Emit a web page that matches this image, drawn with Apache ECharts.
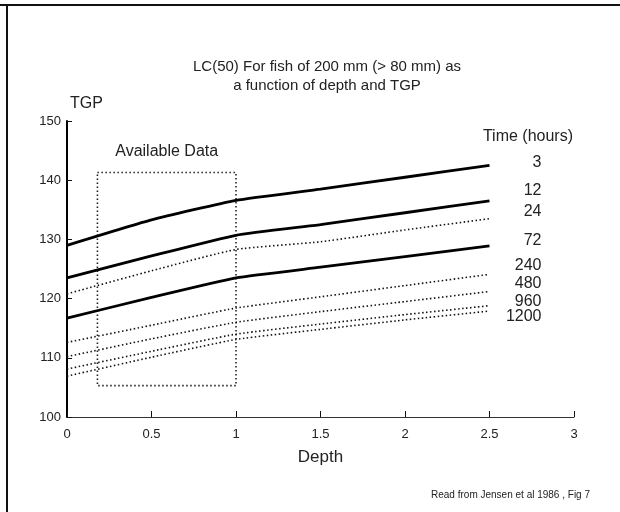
<!DOCTYPE html>
<html>
<head>
    <meta charset="utf-8">
    <title>LC(50) depth and TGP</title>
    <script src="https://cdn.jsdelivr.net/npm/echarts@6/dist/echarts.min.js"></script>
    <style>
        html, body { margin: 0; padding: 0; background: #fff; }
    </style>
</head>
<body>
<div id="main" style="width: 620px;height:512px;"></div>
<script type="text/javascript">
    // depth values where the curves were read
    var depths = [0, 0.5, 1, 1.5, 2, 2.5];

    // exposure times (hours), one curve each
    var times = ['3', '12', '24', '72', '240', '480', '960', '1200'];

    // TGP values, per time
    var tgp3    = [129.0, 133.3, 136.6, 138.5, 140.5, 142.5];
    var tgp12   = [123.5, 127.2, 130.7, 132.5, 134.5, 136.5];
    var tgp24   = [120.8, 124.7, 128.3, 129.6, 131.6, 133.5];
    var tgp72   = [116.7, 120.2, 123.5, 125.3, 127.1, 128.9];
    var tgp240  = [112.6, 115.5, 118.4, 120.3, 122.2, 124.1];
    var tgp480  = [110.2, 113.2, 116.0, 117.8, 119.5, 121.2];
    var tgp960  = [108.1, 111.1, 114.0, 115.7, 117.3, 118.8];
    var tgp1200 = [106.9, 110.1, 113.1, 114.8, 116.4, 117.9];

    // box of available data (depth range, TGP range)
    var availDepth = [0.18, 1.0];
    var availTGP = [105.3, 141.3];

    var yTicks = [100, 110, 120, 130, 140, 150];
    var xTicks = [0, 0.5, 1, 1.5, 2, 2.5, 3];

    var allTgp = [tgp3, tgp12, tgp24, tgp72, tgp240, tgp480, tgp960, tgp1200];
    // solid or dotted, like the original
    var solid = [true, true, false, true, false, false, false, false];
    // little vertical nudges so the end labels sit like in the figure
    var labelDy = [-3, -10, -7, -5, -9, -8, -4, 6];

    var font = "'Liberation Sans', Arial, sans-serif";

    var myChart = echarts.init(document.getElementById('main'));

    var series = [];
    for (var i = 0; i < times.length; i++) {
        var pts = [];
        for (var j = 0; j < depths.length; j++) {
            pts.push([depths[j], allTgp[i][j]]);
        }
        series.push({
            name: times[i],
            type: 'line',
            data: pts,
            symbol: 'none',
            smooth: 0.15,
            silent: true,
            lineStyle: solid[i]
                ? { color: '#000', width: 2.8, type: 'solid' }
                : { color: '#111', width: 1.6, type: [1.5, 2.5] },
            endLabel: {
                show: true,
                formatter: '{a}',
                align: 'right',
                offset: [44, labelDy[i]],
                fontFamily: font,
                fontSize: 16,
                color: '#222'
            }
        });
    }

    // dotted box for the available data
    series[0].markArea = {
        silent: true,
        itemStyle: {
            color: 'rgba(0,0,0,0)',
            borderColor: '#222',
            borderWidth: 1.6,
            borderType: [1.5, 2.5]
        },
        label: {
            show: true,
            position: 'top',
            distance: 12,
            fontFamily: font,
            fontSize: 16,
            color: '#222'
        },
        data: [[
            { name: 'Available Data', coord: [availDepth[0], availTGP[1]] },
            { coord: [availDepth[1], availTGP[0]] }
        ]]
    };

    myChart.setOption({
        animation: false,
        title: [{
            text: 'LC(50) For fish of 200 mm (> 80 mm) as\na function of depth and TGP',
            left: 322,
            top: 52,
            textAlign: 'center',
            textStyle: {
                fontFamily: font,
                fontSize: 15,
                fontWeight: 'normal',
                color: '#222',
                lineHeight: 19,
                align: 'center'
            }
        }, {
            text: 'Time (hours)',
            right: 42,
            top: 124,
            textStyle: { fontFamily: font, fontSize: 16, fontWeight: 'normal', color: '#222' }
        }, {
            text: 'Read from Jensen et al 1986 , Fig 7',
            right: 25,
            top: 485,
            textStyle: { fontFamily: font, fontSize: 10, fontWeight: 'normal', color: '#222' }
        }],
        graphic: [
            { type: 'rect', shape: { x: 0, y: 4, width: 620, height: 2 }, style: { fill: '#111' } },
            { type: 'rect', shape: { x: 6, y: 4, width: 2, height: 508 }, style: { fill: '#111' } }
        ],
        grid: { left: 67, right: 46, top: 121, bottom: 95 },
        xAxis: {
            type: 'value',
            min: xTicks[0],
            max: xTicks[xTicks.length - 1],
            interval: 0.5,
            name: 'Depth',
            nameLocation: 'middle',
            nameGap: 32,
            nameTextStyle: { fontFamily: font, fontSize: 17, color: '#222' },
            splitLine: { show: false },
            axisLine: { lineStyle: { color: '#333', width: 1 } },
            axisTick: { inside: true, length: 6, lineStyle: { color: '#111' } },
            axisLabel: { fontFamily: font, fontSize: 13, color: '#222', margin: 11 }
        },
        yAxis: {
            type: 'value',
            min: yTicks[0],
            max: yTicks[yTicks.length - 1],
            interval: 10,
            name: 'TGP',
            nameLocation: 'end',
            nameGap: 9,
            nameTextStyle: { fontFamily: font, fontSize: 16, color: '#222', align: 'left', padding: [0, 0, 0, 3] },
            splitLine: { show: false },
            axisLine: { lineStyle: { color: '#000', width: 2 } },
            axisTick: { inside: true, length: 5, lineStyle: { color: '#111' } },
            axisLabel: { fontFamily: font, fontSize: 13, color: '#222', margin: 6 }
        },
        series: series
    });
</script>
</body>
</html>
